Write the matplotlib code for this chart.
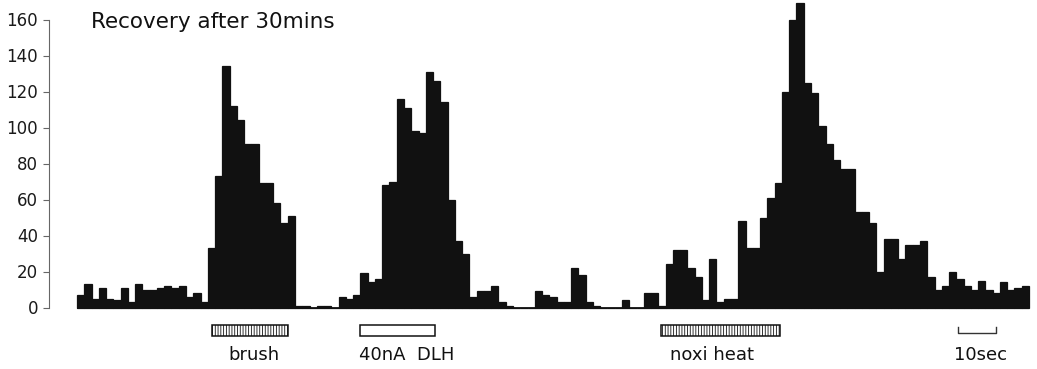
import matplotlib
matplotlib.use("Agg")
import matplotlib.pyplot as plt
from matplotlib.patches import Rectangle

# ---- data -------------------------------------------------------------
counts = [
    7, 13, 5, 11, 5, 4, 11, 3, 13, 10, 10, 11, 12, 11, 12, 6, 8, 3,          # 0-17
    33, 73, 134, 112, 104, 91, 91, 69, 69, 58, 47, 51,                         # 18-29 brush
    1, 1, 0, 1, 1, 0,                                                          # 30-35
    6, 5, 7, 19, 14, 16, 68, 70, 116, 111, 98, 97, 131, 126, 114, 60, 37, 30,  # 36-53 DLH
    6, 9, 9, 12, 3, 1, 0, 0, 0,                                                # 54-62
    9, 7, 6, 3, 3, 22, 18, 3, 1, 0, 0, 0, 4, 0, 0,                             # 63-77
    8, 8, 1, 24, 32, 32, 22, 17, 4, 27, 3, 5, 5,                               # 78-90
    48, 33, 33, 50, 61, 69, 120, 160, 169, 125, 119, 101, 91, 82, 77, 77,      # 91-106 heat
    53, 53, 47, 20, 38, 38, 27, 35, 35, 37,                                    # 107-116
    17, 10, 12, 20, 16, 12, 10, 15, 10, 8, 14, 10, 11, 12,                     # 117-130
]
yticks = [0, 20, 40, 60, 80, 100, 120, 140, 160]
title = "Recovery after 30mins"

stim_labels = ["brush", "40nA  DLH", "noxi heat"]
stim_start = [18.6, 39.0, 80.4]
stim_end = [29.0, 49.3, 96.7]
stim_hatched = [True, False, True]
stim_label_x = [24.3, 45.3, 87.4]

scale_start, scale_end, scale_label = 121.2, 126.5, "10sec"
scale_label_x = 124.3

# ---- figure -----------------------------------------------------------
W, H = 1037, 369
plt.rcParams["hatch.linewidth"] = 0.6
fig = plt.figure(figsize=(W / 100, H / 100), dpi=100)
ax = fig.add_axes([0, 0, 1, 1])

px_per_bin = 7.267
x0_px = 77.0
y0_px = 307.5
px_per_unit = 1.8
ax.set_xlim(-x0_px / px_per_bin, (W - x0_px) / px_per_bin)
ax.set_ylim((y0_px - H) / px_per_unit, y0_px / px_per_unit)

ink = "#111111"
ax.bar(range(len(counts)), counts, width=1.0, align="edge",
       color=ink, edgecolor=ink, linewidth=0.9)
ax.hlines(0, 0, len(counts), color=ink, lw=1.3)

# y axis
for s in ["top", "right", "bottom"]:
    ax.spines[s].set_visible(False)
ax.spines["left"].set_position(("data", (49 - x0_px) / px_per_bin))
ax.spines["left"].set_bounds(0, 160)
ax.spines["left"].set_color("#666666")
ax.spines["left"].set_linewidth(0.8)
ax.set_yticks(yticks)
ax.set_yticklabels([str(v) for v in yticks])
ax.tick_params(axis="y", length=4, width=0.8, color="#666666", pad=4,
               labelsize=12, labelcolor="#1a1a1a")
ax.set_xticks([])

# stimulus markers
r_top, r_bot = -9.9, -15.6
for lab, a, b, hat, lx in zip(stim_labels, stim_start, stim_end, stim_hatched, stim_label_x):
    rect = Rectangle((a, r_bot), b - a, r_top - r_bot, facecolor="white",
                     edgecolor=ink, linewidth=1.1,
                     hatch="||||||" if hat else None)
    ax.add_patch(rect)
    ax.text(lx, -26.5, lab, ha="center", va="center", fontsize=13, color=ink)

ax.plot([scale_start, scale_start, scale_end, scale_end],
        [-10.6, -14.0, -14.0, -10.6], color="#333333", lw=1.0)
ax.text(scale_label_x, -26.5, scale_label, ha="center", va="center",
        fontsize=13, color=ink)

fig.text(91 / W, 1 - 22 / H, title, ha="left", va="center",
         fontsize=15.5, color=ink)

fig.savefig("out.png", dpi=100)
